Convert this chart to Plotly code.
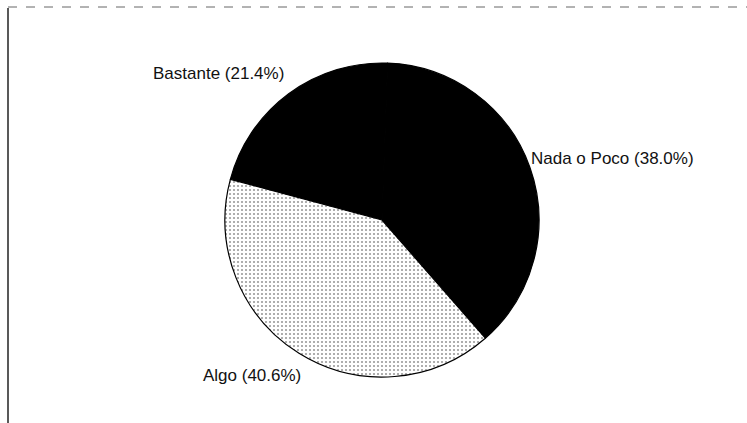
import plotly.graph_objects as go

categories = ["Bastante", "Nada o Poco", "Algo"]
values = [21.4, 38.0, 40.6]
label_texts = ["Bastante (21.4%)", "Nada o Poco (38.0%)", "Algo (40.6%)"]

W, H = 747, 423
cx, cy, d = 382, 220, 314

fig = go.Figure()
fig.add_trace(go.Pie(
    labels=categories,
    values=values,
    sort=False,
    direction="clockwise",
    rotation=-75,
    textinfo="none",
    hoverinfo="label+percent",
    showlegend=False,
    marker=dict(
        colors=["#000000", "#000000", "#f4f4f4"],
        line=dict(color="#000000", width=1.2),
        pattern=dict(shape=["", "", "."], fgcolor="#9a9a9a", size=4, solidity=0.22),
    ),
    domain=dict(x=[(cx - d / 2) / W, (cx + d / 2) / W],
                y=[1 - (cy + d / 2) / H, 1 - (cy - d / 2) / H]),
))

# label positions (pixels) for annotations
label_px = [(151, 73, "left"), (529, 158, "left"), (201, 375, "left")]
for txt, (px, py, anc) in zip(label_texts, label_px):
    fig.add_annotation(
        x=px / W, y=1 - py / H, xref="paper", yref="paper",
        text=txt, showarrow=False, xanchor=anc, yanchor="middle",
        font=dict(family="Liberation Sans, Arial, sans-serif", size=17, color="#111111"),
    )

# scanned frame: top and left edges
fig.add_shape(type="line", xref="paper", yref="paper",
              x0=8 / W, x1=1, y0=1 - 7 / H, y1=1 - 7 / H,
              line=dict(color="#666666", width=1, dash="dash"))
fig.add_shape(type="line", xref="paper", yref="paper",
              x0=8 / W, x1=8 / W, y0=1 - 8 / H, y1=0,
              line=dict(color="#222222", width=1.5))

fig.update_layout(
    width=W, height=H,
    margin=dict(l=0, r=0, t=0, b=0),
    paper_bgcolor="white",
    plot_bgcolor="white",
)

fig.write_html("out.html", config={"displayModeBar": False},
               post_script="document.body.style.margin='0';document.body.style.overflow='hidden';")
